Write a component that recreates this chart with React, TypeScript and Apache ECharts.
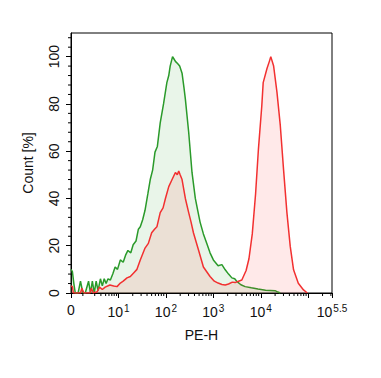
import React, { useEffect, useRef } from "react";
import * as echarts from "echarts";

// x is in display units: 0 -> "0", k -> 10^k
const xMajorTicks = [0, 1, 2, 3, 4, 5, 5.5];
const xLabelTicks = [0, 1, 2, 3, 4, 5.5];
const xLowMinorTicks = [0.25, 0.5, 0.63, 0.73, 0.8, 0.86, 0.91, 0.96];
const logMultipliers = [2, 3, 4, 5, 6, 7, 8, 9];
const yMajorTicks = [0, 20, 40, 60, 80, 100];
const yMinorTicks = [4, 8, 12, 16, 24, 28, 32, 36, 44, 48, 52, 56, 64, 68, 72, 76, 84, 88, 92, 96, 104, 108];

// green histogram (control)
const greenX = [0, 0.03, 0.06, 0.09, 0.15, 0.2, 0.25, 0.3, 0.37, 0.41, 0.45, 0.49, 0.53, 0.57, 0.62, 0.66, 0.7, 0.74, 0.78, 0.83, 0.88, 0.93, 0.98, 1.04, 1.1, 1.15, 1.2, 1.26, 1.31, 1.37, 1.42, 1.46, 1.51, 1.56, 1.62, 1.67, 1.72, 1.77, 1.82, 1.88, 1.95, 2.02, 2.06, 2.09, 2.14, 2.17, 2.2, 2.25, 2.29, 2.34, 2.38, 2.41, 2.48, 2.55, 2.62, 2.67, 2.72, 2.79, 2.86, 2.93, 3.0, 3.1, 3.18, 3.25, 3.32, 3.39, 3.45, 3.5, 3.58, 3.67, 3.8, 3.94, 4.1, 4.3, 4.36, 4.41];
const greenY = [10, 9, 4, 0, 0, 5, 0, 0, 5, 0, 5, 0, 5, 1, 6, 3, 6, 4, 6, 5.5, 8, 11, 10, 14, 13, 16, 18, 17, 20.4, 22, 27, 28, 31, 35, 42, 48, 52, 59.6, 62, 72, 80, 89, 92, 96, 100, 99, 98, 97, 96, 93, 87, 82, 68, 51, 40, 35, 30, 25, 21, 17, 14, 11.5, 12, 9.8, 8, 6.4, 6, 4.8, 3.5, 2.7, 2.2, 1.7, 1.2, 1, 0.4, 0];

// red histogram (stained)
const redX = [0, 0.03, 0.05, 0.2, 0.23, 0.27, 0.4, 0.43, 0.47, 0.55, 0.6, 0.66, 0.72, 0.82, 0.9, 0.97, 1.04, 1.1, 1.18, 1.25, 1.32, 1.39, 1.46, 1.56, 1.63, 1.7, 1.76, 1.81, 1.88, 1.94, 1.99, 2.06, 2.13, 2.2, 2.24, 2.27, 2.3, 2.34, 2.41, 2.48, 2.53, 2.58, 2.69, 2.79, 2.86, 2.93, 3.02, 3.1, 3.18, 3.25, 3.32, 3.4, 3.46, 3.53, 3.6, 3.69, 3.75, 3.82, 3.89, 3.95, 4.02, 4.05, 4.13, 4.18, 4.21, 4.27, 4.34, 4.41, 4.48, 4.55, 4.62, 4.69, 4.79, 4.9, 4.98];
const redY = [3, 2.7, 0, 0, 2, 0, 0, 2, 0, 0.5, 2.5, 1.5, 2.5, 3.4, 3, 2.7, 4.2, 5, 6.4, 7, 8.5, 10, 14, 19, 21, 25.5, 27, 28, 34, 36, 40, 45, 48, 51, 50, 51.6, 50, 48, 40, 34, 30, 25.5, 18, 11, 9, 7, 5, 4.2, 3.6, 3.4, 3.8, 4.6, 4.4, 5, 5.5, 9.5, 14.5, 25, 42, 61, 79, 89, 95, 98, 100, 96, 85, 71, 52, 34, 19.7, 9.8, 4.1, 1.3, 0];

const xMinorTicks = [
  ...xLowMinorTicks,
  ...[1, 2, 3, 4].flatMap((k) => logMultipliers.map((m) => k + Math.log10(m))),
  5 + Math.log10(2),
  5 + Math.log10(3),
];

const supLabels: Record<string, string> = { "0": "0" };

export default function App() {
  const ref = useRef<HTMLDivElement>(null);
  useEffect(() => {
    if (!ref.current) return;
    const chart = echarts.init(ref.current, null, { renderer: "svg" });
    const font = "Liberation Sans, Arial, sans-serif";
    chart.setOption({
      animation: false,
      backgroundColor: "#ffffff",
      grid: {
        left: 71,
        right: 49,
        top: 33,
        bottom: 85,
        show: true,
        borderColor: "#000",
        borderWidth: 1,
        backgroundColor: "transparent",
      },
      xAxis: {
        type: "value",
        min: 0,
        max: 5.5,
        name: "PE-H",
        nameLocation: "middle",
        nameGap: 35,
        nameTextStyle: { fontFamily: font, fontSize: 14, color: "#111" },
        axisLine: { show: true, lineStyle: { color: "#000", width: 1 } },
        axisTick: { show: true, length: 5, customValues: xMajorTicks, lineStyle: { color: "#000" } },
        splitLine: { show: false },
        axisLabel: {
          customValues: xLabelTicks,
          margin: 10,
          fontFamily: font,
          fontSize: 14,
          color: "#111",
          formatter: (v: number) => {
            if (v === 0) return supLabels["0"];
            const e = String(Math.round(v * 10) / 10);
            return "{b|10}{s|" + e + "}";
          },
          rich: {
            b: { fontFamily: font, fontSize: 14, color: "#111" },
            s: { fontFamily: font, fontSize: 10, color: "#111", verticalAlign: "top", padding: [0, 0, 8, 1] },
          },
        },
      },
      yAxis: {
        type: "value",
        min: 0,
        max: 110,
        name: "Count [%]",
        nameLocation: "middle",
        nameGap: 36,
        nameRotate: 90,
        nameTextStyle: { fontFamily: font, fontSize: 14, color: "#111" },
        axisLine: { show: true, lineStyle: { color: "#000", width: 1 } },
        axisTick: { show: true, length: 5, customValues: yMajorTicks, lineStyle: { color: "#000" } },
        splitLine: { show: false },
        axisLabel: {
          customValues: yMajorTicks,
          rotate: 90,
          margin: 10,
          fontFamily: font,
          fontSize: 14,
          color: "#111",
        },
      },
      series: [
        {
          type: "line",
          data: greenX.map((x, i) => [x, greenY[i]]),
          showSymbol: false,
          symbol: "none",
          lineStyle: { color: "#2a9a2a", width: 1.5 },
          areaStyle: { color: "#2a9a2a", opacity: 0.1 },
          z: 2,
        },
        {
          type: "line",
          data: redX.map((x, i) => [x, redY[i]]),
          showSymbol: false,
          symbol: "none",
          lineStyle: { color: "#f23030", width: 1.5 },
          areaStyle: { color: "#ff2a2a", opacity: 0.1 },
          z: 3,
        },
        {
          type: "custom",
          clip: false,
          silent: true,
          data: xMinorTicks.map((d) => [d, 0]),
          renderItem: (_p: any, api: any) => {
            const pt = api.coord([api.value(0), 0]);
            return {
              type: "line",
              shape: { x1: pt[0], y1: pt[1], x2: pt[0], y2: pt[1] + 3 },
              style: { stroke: "#000", lineWidth: 1 },
            };
          },
          z: 5,
        },
        {
          type: "custom",
          clip: false,
          silent: true,
          data: yMinorTicks.map((v) => [0, v]),
          renderItem: (_p: any, api: any) => {
            const pt = api.coord([0, api.value(1)]);
            return {
              type: "line",
              shape: { x1: pt[0] - 3, y1: pt[1], x2: pt[0], y2: pt[1] },
              style: { stroke: "#000", lineWidth: 1 },
            };
          },
          z: 5,
        },
      ],
    });
    return () => chart.dispose();
  }, []);
  return (
    <div
      ref={ref}
      style={{ position: "fixed", left: 0, top: 0, width: 381, height: 378, background: "#fff" }}
    />
  );
}
